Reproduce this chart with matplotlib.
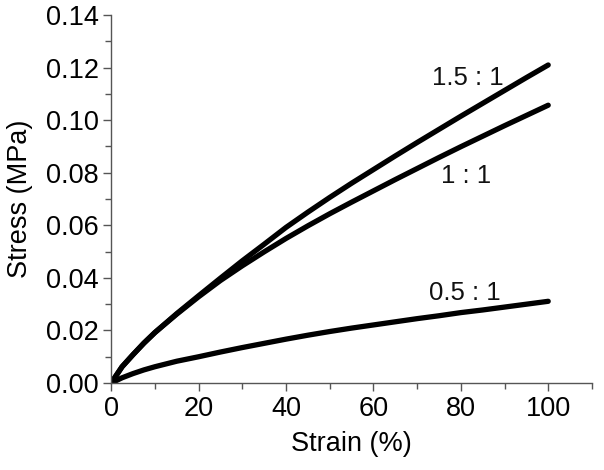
import numpy as np
import matplotlib
matplotlib.use("Agg")
import matplotlib.pyplot as plt
from matplotlib.ticker import MultipleLocator

plt.rcParams['font.family'] = ['Liberation Sans', 'DejaVu Sans']

# Strain (%) sample points
strain = [0, 2.5, 5, 7.5, 10, 15, 20, 25, 30, 35, 40, 45, 50,
          55, 60, 65, 70, 75, 80, 85, 90, 95, 100]

# Stress (MPa) for each ratio
stress_15 = [0.0, 0.0062, 0.0108, 0.0152, 0.0192, 0.0264, 0.0332, 0.0399, 0.0465, 0.0528, 0.0592, 0.0650, 0.0706,
             0.0760, 0.0812, 0.0864, 0.0915, 0.0965, 0.1015, 0.1064, 0.1113, 0.1162, 0.1210]
stress_10 = [0.0, 0.0062, 0.0108, 0.0152, 0.0192, 0.0262, 0.0328, 0.0390, 0.0446, 0.0499, 0.0550, 0.0598, 0.0644,
             0.0688, 0.0731, 0.0774, 0.0816, 0.0858, 0.0899, 0.0939, 0.0979, 0.1018, 0.1057]
stress_05 = [0.0, 0.0020, 0.0036, 0.0050, 0.0062, 0.0083, 0.0100, 0.0118, 0.0135, 0.0151, 0.0167, 0.0182, 0.0196,
             0.0209, 0.0221, 0.0233, 0.0245, 0.0256, 0.0268, 0.0278, 0.0289, 0.0300, 0.0311]

labels = ["1.5 : 1", "1 : 1", "0.5 : 1"]
label_pos = [(81.5, 0.1160), (81.2, 0.0786), (81.0, 0.0342)]

fig = plt.figure(figsize=(6.04, 4.70), dpi=100)
ax = fig.add_axes([0.184, 0.185, 0.796, 0.783])

for s in (stress_15, stress_10, stress_05):
    ax.plot(strain, s, '-', color='black', linewidth=3.8,
            solid_capstyle='round', solid_joinstyle='round')

for txt, (tx, ty) in zip(labels, label_pos):
    ax.text(tx, ty, txt, fontsize=18.5, ha='center', va='center', color='#111111')

ax.set_xlim(0, 110)
ax.set_ylim(0, 0.14)
ax.xaxis.set_major_locator(MultipleLocator(20))
ax.xaxis.set_minor_locator(MultipleLocator(10))
ax.yaxis.set_major_locator(MultipleLocator(0.02))
ax.yaxis.set_minor_locator(MultipleLocator(0.01))
ax.set_xticks([0, 20, 40, 60, 80, 100])
ax.yaxis.set_major_formatter(plt.FormatStrFormatter('%.2f'))

for side in ('top', 'right'):
    ax.spines[side].set_visible(False)
for side in ('left', 'bottom'):
    ax.spines[side].set_color('#555555')
    ax.spines[side].set_linewidth(1.0)

ax.tick_params(which='major', direction='out', length=6, width=1, color='#555555',
               labelsize=19.5, pad=3)
ax.tick_params(which='minor', direction='out', length=4, width=1, color='#555555')

ax.set_xlabel("Strain (%)", fontsize=19.5, labelpad=7)
ax.set_ylabel("Stress (MPa)", fontsize=19.5, labelpad=9)

plt.savefig("out.png", dpi=100)
plt.close()
